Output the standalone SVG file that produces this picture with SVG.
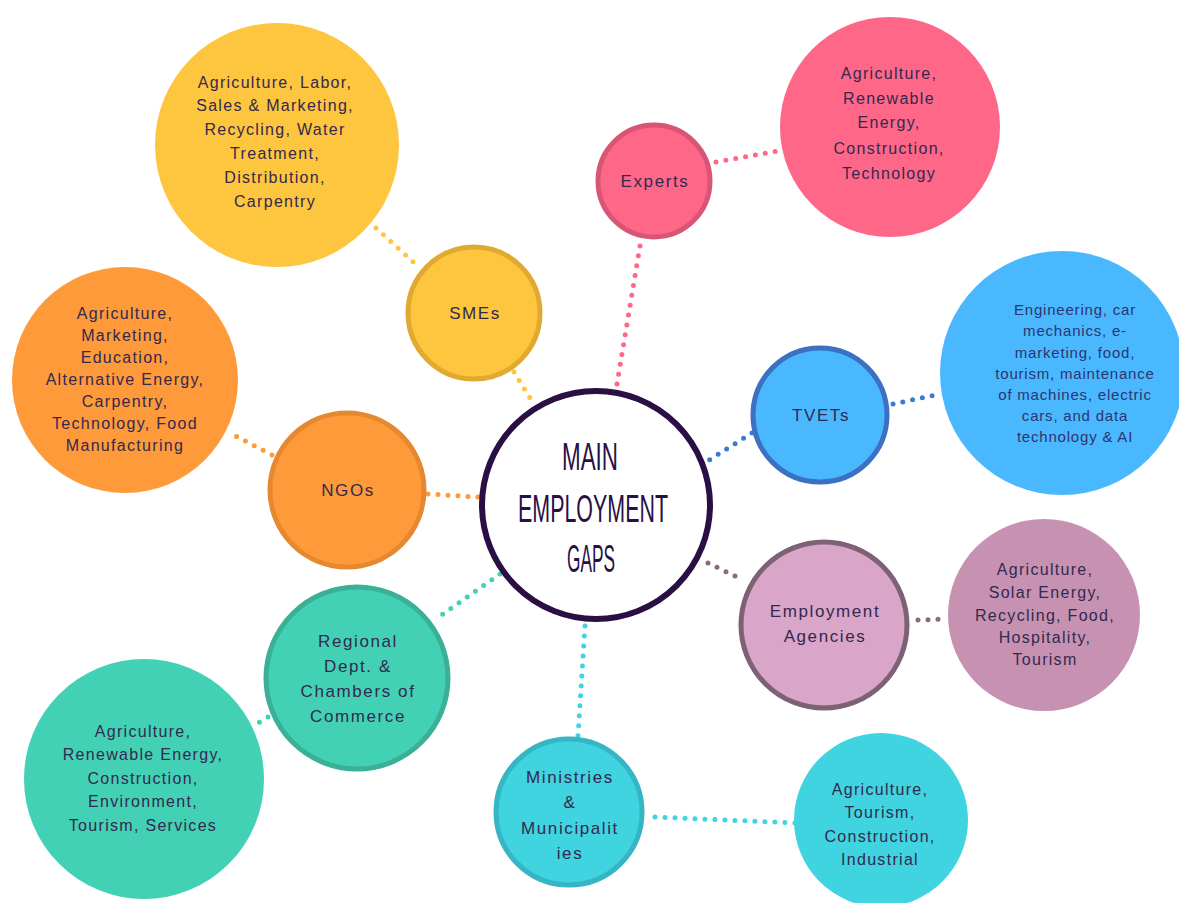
<svg xmlns="http://www.w3.org/2000/svg" width="1179" height="903" viewBox="0 0 1179 903">
<style>
.t{font-family:"Liberation Sans",Arial,sans-serif;font-size:16px;letter-spacing:1.3px;text-anchor:middle;fill:#33294f}
.ts{font-family:"Liberation Sans",Arial,sans-serif;font-size:15px;letter-spacing:0.8px;text-anchor:middle;fill:#2c3570}
.tn{font-family:"Liberation Sans",Arial,sans-serif;font-size:17px;letter-spacing:1.6px;text-anchor:middle;fill:#33294f}
.c{fill:none;stroke-width:5;stroke-linecap:round;stroke-dasharray:0 10}
.main{font-family:"Liberation Sans",Arial,sans-serif;font-size:38px;text-anchor:middle;fill:#2a0f45}
</style>
<rect width="1179" height="903" fill="#ffffff"/>
<g id="connectors">
<line class="c" stroke="#fec53e" x1="376" y1="228" x2="420" y2="268"/>
<line class="c" stroke="#fec53e" x1="514" y1="372" x2="533" y2="403"/>
<line class="c" stroke="#ff6789" x1="640" y1="246" x2="616" y2="390"/>
<line class="c" stroke="#ff6789" x1="716" y1="162" x2="784" y2="150"/>
<line class="c" stroke="#3d7bd0" x1="752" y1="433" x2="706" y2="462"/>
<line class="c" stroke="#3d7bd0" x1="893" y1="404" x2="940" y2="394"/>
<line class="c" stroke="#8a6a80" x1="708" y1="563" x2="743" y2="580"/>
<line class="c" stroke="#8a6a80" x1="918" y1="620" x2="946" y2="619"/>
<line class="c" stroke="#3fd4e0" x1="585" y1="626" x2="578" y2="736"/>
<line class="c" stroke="#3fd4e0" x1="655" y1="817" x2="796" y2="823"/>
<line class="c" stroke="#43d1b5" x1="500" y1="574" x2="440" y2="616"/>
<line class="c" stroke="#43d1b5" x1="268" y1="717" x2="258" y2="723"/>
<line class="c" stroke="#fe9a3a" x1="428" y1="494" x2="478" y2="497"/>
<line class="c" stroke="#fe9a3a" x1="272" y1="455" x2="228" y2="432"/>
</g>
<g id="smes-detail">
<circle cx="277" cy="145" r="122" fill="#fec53e"/>
<text class="t" x="275" y="88">Agriculture, Labor,</text>
<text class="t" x="275" y="111">Sales &amp; Marketing,</text>
<text class="t" x="275" y="135">Recycling, Water</text>
<text class="t" x="275" y="159">Treatment,</text>
<text class="t" x="275" y="183">Distribution,</text>
<text class="t" x="275" y="207">Carpentry</text>
</g>
<g id="smes">
<circle cx="474" cy="313" r="66" fill="#fec53e" stroke="#e0aa30" stroke-width="5"/>
<text class="tn" x="475" y="319">SMEs</text>
</g>
<g id="experts">
<circle cx="654" cy="181" r="56" fill="#ff6789" stroke="#d85574" stroke-width="5"/>
<text class="tn" x="655" y="187">Experts</text>
</g>
<g id="experts-detail">
<circle cx="890" cy="127" r="110" fill="#ff6789"/>
<text class="t" x="889" y="79">Agriculture,</text>
<text class="t" x="889" y="104">Renewable</text>
<text class="t" x="889" y="128">Energy,</text>
<text class="t" x="889" y="154">Construction,</text>
<text class="t" x="889" y="179">Technology</text>
</g>
<g id="tvets">
<circle cx="820" cy="415" r="67" fill="#4ab8ff" stroke="#3c70c0" stroke-width="5"/>
<text class="tn" x="821" y="421" fill="#2c4a80">TVETs</text>
</g>
<g id="tvets-detail">
<circle cx="1062" cy="373" r="122" fill="#4ab8ff"/>
<text class="ts" x="1075" y="315">Engineering, car</text>
<text class="ts" x="1075" y="336">mechanics, e-</text>
<text class="ts" x="1075" y="358">marketing, food,</text>
<text class="ts" x="1075" y="379">tourism, maintenance</text>
<text class="ts" x="1075" y="400">of machines, electric</text>
<text class="ts" x="1075" y="421">cars, and data</text>
<text class="ts" x="1075" y="442">technology &amp; AI</text>
</g>
<g id="agencies">
<circle cx="824" cy="625" r="83" fill="#d9a5c8" stroke="#7d6175" stroke-width="5"/>
<text class="tn" x="825" y="617" fill="#3a1f4a">Employment</text>
<text class="tn" x="825" y="642" fill="#3a1f4a">Agencies</text>
</g>
<g id="agencies-detail">
<circle cx="1044" cy="615" r="96" fill="#c792b1"/>
<text class="t" x="1045" y="575">Agriculture,</text>
<text class="t" x="1045" y="598">Solar Energy,</text>
<text class="t" x="1045" y="621">Recycling, Food,</text>
<text class="t" x="1045" y="643">Hospitality,</text>
<text class="t" x="1045" y="665">Tourism</text>
</g>
<g id="ministries">
<circle cx="569" cy="812" r="73" fill="#3fd4e0" stroke="#36b5c4" stroke-width="5"/>
<text class="tn" x="570" y="783">Ministries</text>
<text class="tn" x="570" y="808">&amp;</text>
<text class="tn" x="570" y="834">Municipalit</text>
<text class="tn" x="570" y="859">ies</text>
</g>
<g id="ministries-detail">
<circle cx="881" cy="820" r="87" fill="#3fd4e0"/>
<text class="t" x="880" y="795">Agriculture,</text>
<text class="t" x="880" y="818">Tourism,</text>
<text class="t" x="880" y="842">Construction,</text>
<text class="t" x="880" y="865">Industrial</text>
</g>
<g id="regional">
<circle cx="357" cy="678" r="91" fill="#43d1b5" stroke="#3ab096" stroke-width="5"/>
<text class="tn" x="358" y="647">Regional</text>
<text class="tn" x="358" y="672">Dept. &amp;</text>
<text class="tn" x="358" y="697">Chambers of</text>
<text class="tn" x="358" y="722">Commerce</text>
</g>
<g id="regional-detail">
<circle cx="144" cy="779" r="120" fill="#43d1b5"/>
<text class="t" x="143" y="737">Agriculture,</text>
<text class="t" x="143" y="760">Renewable Energy,</text>
<text class="t" x="143" y="784">Construction,</text>
<text class="t" x="143" y="807">Environment,</text>
<text class="t" x="143" y="831">Tourism, Services</text>
</g>
<g id="ngos">
<circle cx="347" cy="490" r="77" fill="#fe9a3a" stroke="#e68830" stroke-width="5"/>
<text class="tn" x="348" y="496">NGOs</text>
</g>
<g id="ngos-detail">
<circle cx="125" cy="380" r="113" fill="#fe9a3a"/>
<text class="t" x="125" y="319">Agriculture,</text>
<text class="t" x="125" y="341">Marketing,</text>
<text class="t" x="125" y="363">Education,</text>
<text class="t" x="125" y="385">Alternative Energy,</text>
<text class="t" x="125" y="407">Carpentry,</text>
<text class="t" x="125" y="429">Technology, Food</text>
<text class="t" x="125" y="451">Manufacturing</text>
</g>
<g id="main">
<circle cx="596" cy="505" r="114" fill="#ffffff" stroke="#2a0f45" stroke-width="6"/>
<text class="main" x="590" y="470" textLength="56" lengthAdjust="spacingAndGlyphs">MAIN</text>
<text class="main" x="593" y="522" textLength="150" lengthAdjust="spacingAndGlyphs">EMPLOYMENT</text>
<text class="main" x="591" y="572" textLength="48" lengthAdjust="spacingAndGlyphs">GAPS</text>
</g>
</svg>
